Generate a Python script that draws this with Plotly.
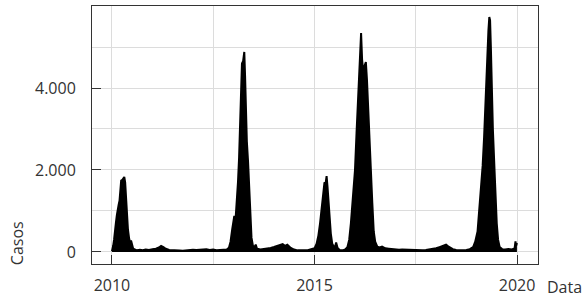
import plotly.graph_objects as go

dates = [
    "2010-01-01","2010-01-05","2010-01-12","2010-01-20","2010-01-28","2010-02-05","2010-02-14","2010-02-22",
    "2010-03-02","2010-03-10","2010-03-18","2010-03-25","2010-04-05","2010-04-15","2010-04-22","2010-04-30",
    "2010-05-08","2010-05-15","2010-05-25","2010-06-05","2010-06-15","2010-06-22","2010-06-30","2010-07-10",
    "2010-07-25","2010-08-15","2010-09-10","2010-10-05","2010-11-01","2010-12-01",
    "2011-01-01","2011-02-01","2011-03-01","2011-03-20","2011-04-10","2011-05-01","2011-06-01","2011-07-01",
    "2011-08-01","2011-09-01","2011-10-01","2011-11-01","2011-12-01",
    "2012-01-01","2012-02-01","2012-03-01","2012-04-01","2012-05-01","2012-06-01","2012-07-01","2012-08-01",
    "2012-09-01","2012-10-01","2012-11-01","2012-11-20","2012-12-05","2012-12-20",
    "2013-01-08","2013-01-18","2013-01-28","2013-02-10","2013-02-20","2013-03-01","2013-03-10","2013-03-18",
    "2013-03-28","2013-04-08","2013-04-15","2013-04-22","2013-05-01","2013-05-12","2013-05-22","2013-06-01",
    "2013-06-12","2013-06-25","2013-07-10","2013-07-20","2013-08-01","2013-09-01","2013-10-01","2013-11-01",
    "2013-12-01",
    "2014-01-01","2014-02-01","2014-03-01","2014-03-20","2014-04-10","2014-05-01","2014-06-01","2014-07-01",
    "2014-08-01","2014-09-01","2014-10-01","2014-11-01","2014-12-01",
    "2015-01-01","2015-01-20","2015-02-05","2015-02-20","2015-03-05","2015-03-20","2015-04-01","2015-04-10",
    "2015-04-20","2015-04-28","2015-05-08","2015-05-18","2015-05-28","2015-06-10","2015-06-25","2015-07-05",
    "2015-07-15","2015-07-28","2015-08-15","2015-09-10","2015-10-05","2015-10-25","2015-11-10","2015-11-25",
    "2015-12-10","2015-12-20",
    "2016-01-01","2016-01-15","2016-01-30","2016-02-08","2016-02-18","2016-02-25","2016-03-05","2016-03-15",
    "2016-03-28","2016-04-08","2016-04-18","2016-04-28","2016-05-10","2016-05-22","2016-06-05","2016-06-18",
    "2016-07-01","2016-07-20","2016-08-10","2016-09-01","2016-10-01","2016-11-01","2016-12-01",
    "2017-01-01","2017-02-01","2017-03-01","2017-04-01","2017-05-01","2017-06-01","2017-07-01","2017-08-01",
    "2017-09-01","2017-10-01","2017-11-01","2017-12-01",
    "2018-01-01","2018-02-01","2018-03-01","2018-04-01","2018-04-20","2018-05-10","2018-06-01","2018-07-01",
    "2018-08-01","2018-09-01","2018-10-01","2018-11-01","2018-12-01","2018-12-20",
    "2019-01-10","2019-01-25","2019-02-10","2019-02-25","2019-03-10","2019-03-22","2019-04-05","2019-04-18",
    "2019-04-26","2019-05-03","2019-05-10","2019-05-18","2019-05-28","2019-06-12","2019-06-22","2019-07-02",
    "2019-07-14","2019-07-28","2019-08-20","2019-09-15","2019-10-15","2019-11-15","2019-12-10","2019-12-18",
    "2019-12-24","2019-12-31",
]
casos = [
    20,60,150,300,450,700,900,1100,
    1150,1250,1500,1740,1760,1790,1830,1700,
    1300,900,550,320,220,280,150,90,
    60,40,55,45,60,50,
    70,80,110,150,120,80,50,40,
    30,35,30,40,45,
    55,50,60,55,65,50,60,45,
    55,50,60,100,250,550,
    880,750,1100,1700,2300,3000,3700,4600,
    4650,4880,4300,3400,2700,2200,1500,800,
    350,150,120,180,80,60,70,90,
    100,
    120,150,170,190,150,180,100,60,
    40,35,40,45,60,
    90,200,400,700,1000,1400,1700,1650,
    1850,1600,1200,800,450,200,120,130,
    230,100,50,40,60,120,300,700,
    1200,1600,
    2000,2900,3800,4300,4900,5340,4700,4400,
    4550,4630,4200,3500,2600,2000,1200,500,
    250,130,110,130,90,80,70,
    60,55,60,55,50,45,40,40,
    45,50,60,70,
    90,120,150,180,140,100,70,50,
    40,45,50,70,120,250,
    500,1000,1600,2100,2800,3700,4600,5400,
    5730,5650,5000,4000,3000,2000,1300,700,
    300,120,70,60,70,60,90,260,
    150,220,
]

x_tickvals = ["2010-01-01", "2015-01-01", "2020-01-01"]
x_ticktext = ["2010", "2015", "2020"]
y_tickvals = [0, 2000, 4000]

font_family = "Open Sans"
text_color = "#333333"
grid_color = "#dcdcdc"
font_size = 16

fig = go.Figure()
fig.add_trace(go.Scatter(
    x=dates, y=casos, mode="lines", fill="tozeroy",
    line=dict(color="black", width=2), fillcolor="black",
    hoverinfo="x+y", showlegend=False,
))

fig.update_layout(
    width=587, height=295,
    margin=dict(l=92, r=49, t=6, b=31, autoexpand=False),
    plot_bgcolor="white", paper_bgcolor="white",
    separators=",.",
    font=dict(family=font_family, size=font_size, color=text_color),
    xaxis=dict(
        type="date",
        range=["2009-07-05", "2020-07-08"],
        tickvals=x_tickvals, ticktext=x_ticktext,
        ticks="inside", ticklen=9, tickcolor=text_color, tickwidth=1,
        showgrid=True, gridcolor=grid_color, gridwidth=1.3,
        minor=dict(tick0="2010-01-01", dtick="M30", showgrid=True, gridcolor=grid_color, gridwidth=1.3, ticks=""),
        showline=True, linecolor=text_color, linewidth=1, mirror=True,
        zeroline=False, ticklabelstandoff=7,
    ),
    yaxis=dict(
        range=[-293, 6000],
        tickvals=y_tickvals, tickformat=",d",
        ticks="inside", ticklen=9, tickcolor=text_color, tickwidth=1,
        showgrid=True, gridcolor=grid_color, gridwidth=1.3,
        minor=dict(tick0=0, dtick=1000, showgrid=True, gridcolor=grid_color, gridwidth=1.3, ticks=""),
        showline=True, linecolor=text_color, linewidth=1, mirror=True,
        zeroline=False, ticklabelstandoff=12,
    ),
    annotations=[
        dict(text="Casos", xref="paper", yref="paper", x=-0.168, y=0.081,
             textangle=-90, showarrow=False, xanchor="center", yanchor="middle",
             font=dict(family=font_family, size=font_size, color=text_color)),
        dict(text="Data", xref="paper", yref="paper", x=1.06, y=-0.089,
             showarrow=False, xanchor="center", yanchor="middle",
             font=dict(family=font_family, size=font_size, color=text_color)),
    ],
)

fig.write_html(
    "out.html",
    config={"displayModeBar": False},
    post_script="document.body.style.margin='0';document.body.style.padding='0';",
)
